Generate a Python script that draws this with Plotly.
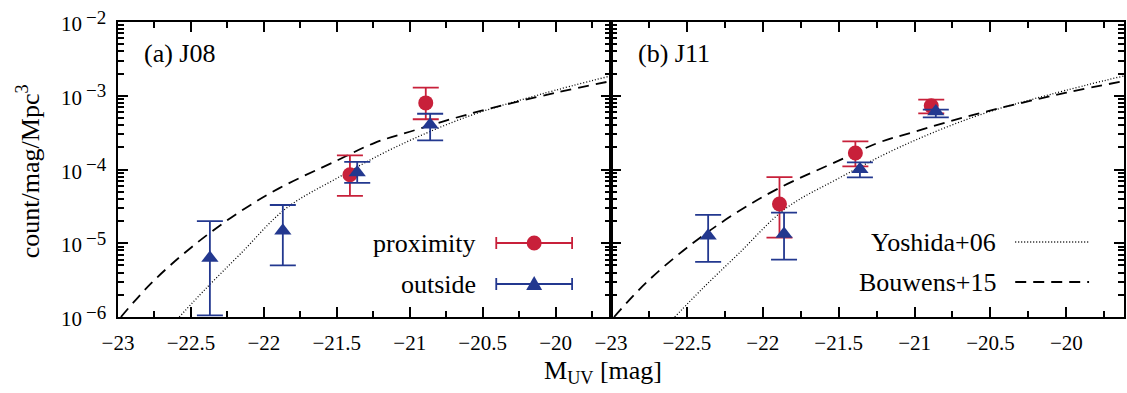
import math
import plotly.graph_objects as go

# ---------------- data ----------------
# J08 panel
j08_prox_M = [-21.41, -20.89]
j08_prox_v = [8.5e-5, 8.0e-4]
j08_prox_hi = [1.55e-4, 1.29e-3]
j08_prox_lo = [4.4e-5, 4.8e-4]

j08_out_M = [-22.37, -21.87, -21.36, -20.86]
j08_out_v = [6.3e-6, 1.48e-5, 9.1e-5, 4.05e-4]
j08_out_hi = [2.0e-5, 3.3e-5, 1.27e-4, 5.7e-4]
j08_out_lo = [1.05e-6, 5.0e-6, 6.6e-5, 2.48e-4]

# J11 panel
j11_prox_M = [-21.89, -21.39, -20.89]
j11_prox_v = [3.4e-5, 1.67e-4, 7.3e-4]
j11_prox_hi = [7.9e-5, 2.4e-4, 8.85e-4]
j11_prox_lo = [1.19e-5, 1.1e-4, 5.77e-4]

j11_out_M = [-22.36, -21.86, -21.36, -20.86]
j11_out_v = [1.26e-5, 1.34e-5, 1.01e-4, 6.1e-4]
j11_out_hi = [2.43e-5, 2.6e-5, 1.25e-4, 6.5e-4]
j11_out_lo = [5.6e-6, 6.0e-6, 7.8e-5, 5.1e-4]

# reference luminosity functions
yoshida_M = [-22.58, -22.4, -22.16, -21.85, -21.5, -21.1, -20.6, -20.1, -19.62]
yoshida_v = [1.0e-6, 2.4e-6, 7.2e-6, 2.95e-5, 7.6e-5, 2.0e-4, 5.25e-4, 1.05e-3, 1.86e-3]

bouwens_M = [-22.98, -22.77, -22.5, -22.2, -21.9, -21.5, -21.24, -21.0, -20.6, -20.0, -19.62]
bouwens_v = [1.0e-6, 2.9e-6, 8.7e-6, 2.4e-5, 5.5e-5, 1.32e-4, 2.3e-4, 3.25e-4, 5.6e-4, 1.1e-3, 1.58e-3]

x_tickvals = [-23, -22.5, -22, -21.5, -21, -20.5, -20]
x_ticktext = ["\u221223", "\u221222.5", "\u221222", "\u221221.5", "\u221221", "\u221220.5", "\u221220"]
y_tickvals = [1e-6, 1e-5, 1e-4, 1e-3, 1e-2]
y_exponents = ["\u22126", "\u22125", "\u22124", "\u22123", "\u22122"]
x_range = [-23, -19.62]

RED = "#c8203a"
BLUE = "#23388f"
FONT = "Liberation Serif"

# ---------------- figure ----------------
fig = go.Figure()

def add_points(M, v, hi, lo, color, symbol, size, xa, ya):
    fig.add_trace(go.Scatter(
        x=M, y=v, mode="markers", xaxis=xa, yaxis=ya, showlegend=False,
        marker=dict(color=color, symbol=symbol, size=size, line=dict(width=0)),
        error_y=dict(type="data", symmetric=False,
                     array=[h - c for h, c in zip(hi, v)],
                     arrayminus=[c - l for c, l in zip(v, lo)],
                     color=color, thickness=1.8, width=13),
    ))

def add_curves(xa, ya):
    fig.add_trace(go.Scatter(x=yoshida_M, y=yoshida_v, mode="lines", xaxis=xa, yaxis=ya,
                             showlegend=False, line=dict(color="black", width=1.3, dash="1px,2px", shape="spline")))
    fig.add_trace(go.Scatter(x=bouwens_M, y=bouwens_v, mode="lines", xaxis=xa, yaxis=ya,
                             showlegend=False, line=dict(color="black", width=1.8, dash="11px,7px", shape="spline")))

add_curves("x", "y")
add_points(j08_prox_M, j08_prox_v, j08_prox_hi, j08_prox_lo, RED, "circle", 15, "x", "y")
add_points(j08_out_M, j08_out_v, j08_out_hi, j08_out_lo, BLUE, "triangle-up", 15, "x", "y")

add_curves("x2", "y2")
add_points(j11_prox_M, j11_prox_v, j11_prox_hi, j11_prox_lo, RED, "circle", 15, "x2", "y2")
add_points(j11_out_M, j11_out_v, j11_out_hi, j11_out_lo, BLUE, "triangle-up", 15, "x2", "y2")

W, H = 1127, 393
L, R, T, B = 118, 1, 22, 76
PW = W - L - R
PH = H - T - B
split = (612 - L) / PW

axis_common = dict(
    showline=True, linecolor="black", linewidth=2, mirror="allticks",
    ticks="inside", ticklen=10, tickwidth=1.5, tickcolor="black",
    showgrid=False, zeroline=False,
    tickfont=dict(family=FONT, size=21, color="black"),
)
xaxis_cfg = dict(axis_common, range=x_range, tickvals=x_tickvals, ticktext=x_ticktext,
                 minor=dict(ticks="inside", ticklen=6, tickwidth=1.5, tickcolor="black",
                            tickvals=[-22.75, -22.25, -21.75, -21.25, -20.75, -20.25, -19.75], showgrid=False))
minor_y = [m * 10.0 ** e for e in range(-6, -2) for m in range(2, 10)]
yaxis_cfg = dict(axis_common, type="log", range=[-6, -2], tickvals=y_tickvals, showticklabels=False,
                 minor=dict(ticks="inside", ticklen=6, tickwidth=1.5, tickcolor="black",
                            tickvals=minor_y, showgrid=False))

def px(xp):
    return (xp - L) / PW

def py(yp):
    return (T + PH - yp) / PH

shapes = []
annotations = []
TXT = dict(family=FONT, size=26, color="black")

# y tick labels: 10 with raised exponent, placed at the axis' own tick values
for tv, ex in zip(y_tickvals, y_exponents):
    annotations.append(dict(x=px(84), y=math.log10(tv), xref="paper", yref="y", text="10", showarrow=False,
                            xanchor="right", yanchor="middle", yshift=-2,
                            font=dict(family=FONT, size=21, color="black")))
    annotations.append(dict(x=px(84), y=math.log10(tv), xref="paper", yref="y", text=ex, showarrow=False,
                            xanchor="left", yanchor="middle", yshift=5,
                            font=dict(family=FONT, size=19, color="black")))

# panel labels
annotations.append(dict(x=px(142), y=py(53), xref="paper", yref="paper", text="(a) J08", showarrow=False,
                        xanchor="left", yanchor="middle", font=TXT))
annotations.append(dict(x=px(637), y=py(53), xref="paper", yref="paper", text="(b) J11", showarrow=False,
                        xanchor="left", yanchor="middle", font=TXT))

# axis titles
annotations.append(dict(x=px(604), y=py(372), xref="paper", yref="paper", text="M<sub>UV</sub> [mag]",
                        showarrow=False, xanchor="center", yanchor="middle", font=TXT))
annotations.append(dict(x=px(28), y=py(171), xref="paper", yref="paper", text="count/mag/Mpc<sup>3</sup>",
                        showarrow=False, xanchor="center", yanchor="middle", textangle=-90, font=TXT))

# legend (left panel): points with horizontal error bars
for label, yc, color, kind in [("proximity", 243, RED, "circle"), ("outside", 284, BLUE, "triangle")]:
    annotations.append(dict(x=px(479), y=py(yc), xref="paper", yref="paper", text=label, showarrow=False,
                            xanchor="right", yanchor="middle", font=TXT))
    shapes.append(dict(type="line", xref="paper", yref="paper", x0=px(497), x1=px(573), y0=py(yc), y1=py(yc),
                       line=dict(color=color, width=1.8)))
    for xc in (497, 573):
        shapes.append(dict(type="line", xref="paper", yref="paper", x0=px(xc), x1=px(xc),
                           y0=py(yc - 6), y1=py(yc + 6), line=dict(color=color, width=1.8)))
    if kind == "circle":
        shapes.append(dict(type="circle", xref="paper", yref="paper", x0=px(527.5), x1=px(542.5),
                           y0=py(yc + 7.5), y1=py(yc - 7.5), fillcolor=color, line=dict(width=0)))
    else:
        shapes.append(dict(type="path", xref="paper", yref="paper",
                           path=f"M {px(527)} {py(yc + 6)} L {px(543)} {py(yc + 6)} L {px(535)} {py(yc - 8)} Z",
                           fillcolor=color, line=dict(width=0)))

# legend (right panel): curves
for label, yc, dash, width in [("Yoshida+06", 242, "1px,2px", 1.3), ("Bouwens+15", 282, "11px,7px", 1.8)]:
    annotations.append(dict(x=px(1000), y=py(yc), xref="paper", yref="paper", text=label, showarrow=False,
                            xanchor="right", yanchor="middle", font=TXT))
    shapes.append(dict(type="line", xref="paper", yref="paper", x0=px(1017), x1=px(1091), y0=py(yc), y1=py(yc),
                       line=dict(color="black", width=width, dash=dash)))

fig.update_layout(
    width=W, height=H,
    margin=dict(l=L, r=R, t=T, b=B),
    paper_bgcolor="white", plot_bgcolor="white",
    xaxis=dict(xaxis_cfg, domain=[0, split], anchor="y", ticklabelstandoff=6),
    xaxis2=dict(xaxis_cfg, domain=[split, 1], anchor="y2", ticklabelstandoff=6),
    yaxis=dict(yaxis_cfg, domain=[0, 1], anchor="x"),
    yaxis2=dict(yaxis_cfg, domain=[0, 1], anchor="x2"),
    shapes=shapes, annotations=annotations,
    showlegend=False,
)

fig.write_html("out.html")
